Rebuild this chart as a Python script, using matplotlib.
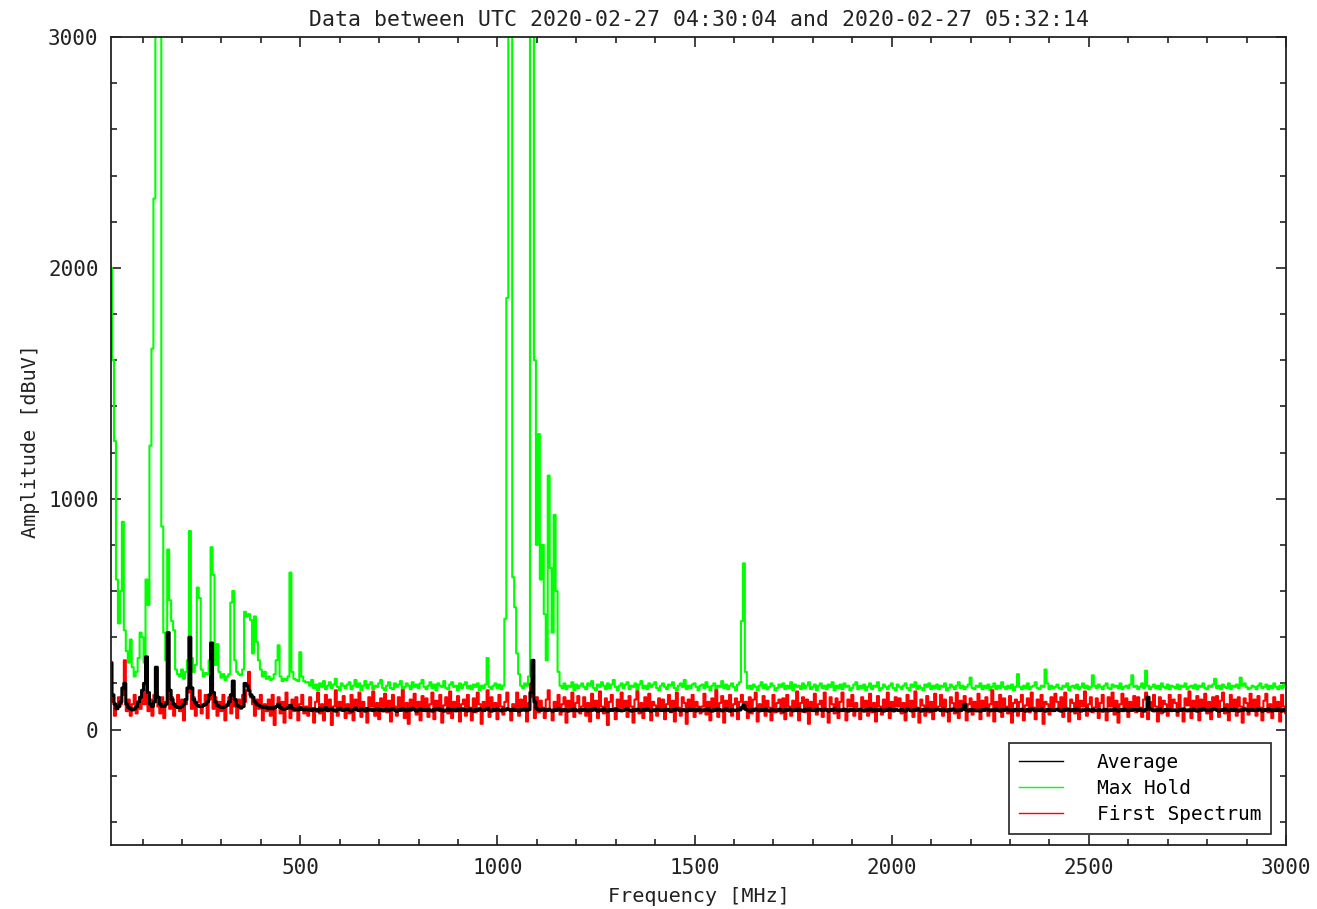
import numpy as np
import matplotlib
matplotlib.use("Agg")
import matplotlib.pyplot as plt
from matplotlib.lines import Line2D

# spectrum sampled every 5 MHz from 20 to 3000 MHz
freq_start, freq_stop, freq_step = 20, 3000, 5

# Max Hold (green), one row = 100 MHz
max_hold = [
    2000, 1600, 1250, 650, 460, 600, 900, 430, 340, 290, 390, 270, 230, 250, 310, 420, 400, 290, 650, 540,
    1230, 1650, 2300, 3100, 3100, 3100, 880, 420, 300, 780, 560, 470, 430, 260, 240, 230, 260, 220, 250, 300,
    860, 310, 250, 280, 615, 570, 260, 230, 245, 240, 300, 790, 670, 280, 370, 250, 225, 240, 215, 230,
    240, 550, 600, 300, 250, 240, 235, 260, 510, 490, 500, 475, 330, 490, 380, 300, 260, 230, 250, 220,
    230, 215, 220, 240, 300, 365, 230, 210, 220, 215, 230, 680, 250, 220, 215, 210, 335, 230, 210, 205,
    205, 190, 215, 180, 195, 170, 200, 185, 210, 175, 190, 205, 180, 195, 220, 185, 170, 200, 190, 180,
    195, 205, 175, 190, 215, 185, 200, 170, 190, 210, 180, 195, 205, 175, 190, 185, 200, 215, 180, 170,
    190, 205, 180, 175, 200, 185, 195, 210, 170, 185, 200, 190, 175, 205, 185, 195, 180, 200, 215, 185,
    175, 190, 205, 180, 195, 170, 200, 190, 185, 210, 180, 175, 195, 205, 185, 190, 170, 200, 180, 195,
    205, 180, 190, 175, 195, 185, 200, 170, 190, 180, 195, 310, 185, 175, 190, 200, 180, 195, 175, 190,
    480, 1870, 3100, 3100, 660, 530, 330, 240, 190, 180, 200, 190, 230, 3100, 3100, 1600, 800, 1280, 650, 800,
    500, 300, 1100, 700, 420, 930, 600, 250, 190, 180, 200, 175, 190, 185, 205, 170, 195, 180, 190, 200,
    185, 175, 200, 190, 210, 180, 170, 195, 185, 205, 190, 175, 200, 180, 195, 215, 185, 170, 190, 200,
    180, 195, 205, 175, 190, 185, 200, 170, 195, 210, 180, 190, 175, 200, 185, 195, 205, 180, 170, 190,
    200, 185, 175, 195, 190, 205, 180, 170, 190, 200, 185, 215, 175, 190, 180, 195, 200, 185, 170, 190,
    195, 180, 205, 185, 170, 190, 200, 175, 190, 185, 210, 180, 195, 175, 190, 200, 185, 170, 195, 205,
    470, 720, 250, 180, 190, 175, 195, 185, 170, 190, 205, 180, 195, 175, 185, 200, 190, 170, 180, 195,
    185, 200, 175, 190, 180, 205, 170, 195, 185, 190, 175, 200, 180, 190, 205, 175, 185, 195, 170, 190,
    200, 180, 190, 175, 195, 185, 205, 170, 190, 180, 195, 175, 200, 185, 190, 170, 180, 195, 205, 175,
    190, 180, 195, 170, 185, 200, 175, 190, 185, 205, 170, 180, 195, 185, 175, 190, 200, 180, 170, 195,
    185, 175, 190, 200, 180, 170, 195, 185, 205, 175, 190, 180, 170, 195, 185, 200, 175, 190, 180, 195,
    175, 190, 185, 200, 170, 180, 195, 185, 175, 190, 205, 180, 190, 175, 185, 195, 225, 180, 175, 190,
    185, 200, 175, 190, 180, 195, 170, 185, 200, 175, 190, 180, 205, 185, 175, 190, 180, 195, 170, 185,
    240, 185, 175, 190, 180, 200, 175, 185, 190, 205, 180, 175, 190, 185, 260, 200, 175, 190, 180, 185,
    195, 180, 175, 190, 185, 200, 170, 185, 190, 180, 195, 175, 185, 200, 180, 190, 175, 185, 235, 190,
    180, 195, 185, 175, 190, 200, 180, 175, 195, 185, 190, 180, 200, 175, 185, 190, 180, 195, 235, 185,
    190, 175, 185, 200, 180, 255, 190, 175, 185, 195, 180, 190, 175, 200, 185, 180, 195, 175, 190, 185,
    180, 195, 175, 190, 185, 200, 175, 185, 190, 180, 195, 175, 190, 185, 200, 180, 175, 190, 185, 195,
    220, 180, 190, 175, 195, 185, 180, 200, 175, 190, 185, 195, 180, 225, 190, 200, 185, 175, 180, 190,
    185, 175, 190, 200, 180, 185, 195, 175, 190, 180, 200, 185, 175, 190, 180, 195, 185,
]

# First Spectrum (red)
first_spectrum = [
    180, 120, 60, 90, 140, 110, 150, 300, 80, 130, 60, 110, 150, 70, 120, 90, 160, 110, 190, 80,
    130, 60, 150, 220, 100, 70, 140, 50, 120, 160, 90, 140, 60, 110, 150, 80, 130, 40, 110, 160,
    200, 90, 140, 60, 120, 170, 70, 110, 150, 50, 130, 210, 90, 140, 60, 120, 80, 150, 40, 110,
    140, 70, 160, 100, 50, 130, 90, 150, 120, 170, 250, 140, 110, 60, 130, 90, 150, 40, 110, 80,
    130, 60, 150, 20, 100, 140, 70, 120, 30, 160, 90, 50, 130, 80, 140, 40, 110, 150, 70, 100,
    60, 140, 90, 30, 120, 160, 70, 110, 40, 150, 80, 130, 20, 100, 170, 60, 120, 90, 145, 50,
    110, 70, 150, 40, 130, 95, 160, 55, 120, 85, 30, 140, 100, 165, 60, 115, 45, 135, 90, 155,
    75, 125, 35, 150, 100, 60, 140, 85, 170, 50, 115, 25, 130, 95, 155, 65, 120, 40, 145, 80,
    135, 55, 110, 160, 45, 125, 90, 150, 30, 105, 140, 70, 165, 50, 120, 85, 145, 35, 110, 130,
    60, 150, 95, 40, 135, 75, 160, 110, 25, 120, 90, 170, 55, 140, 80, 115, 45, 150, 100, 65,
    120, 160, 90, 40, 110, 90, 160, 60, 130, 85, 145, 35, 115, 200, 140, 50, 140, 75, 125, 95,
    50, 130, 170, 85, 40, 120, 95, 150, 65, 110, 140, 30, 125, 80, 160, 55, 115, 145, 70, 100,
    140, 60, 115, 35, 155, 90, 125, 50, 165, 100, 70, 135, 20, 120, 150, 85, 45, 130, 95, 160,
    85, 125, 55, 145, 100, 30, 130, 165, 70, 115, 50, 140, 90, 155, 40, 120, 105, 60, 135, 80,
    130, 45, 110, 150, 75, 125, 35, 160, 95, 60, 140, 115, 25, 130, 85, 150, 55, 120, 100, 70,
    100, 155, 65, 120, 40, 135, 90, 170, 55, 115, 145, 30, 125, 80, 150, 60, 110, 135, 45, 120,
    150, 90, 120, 50, 140, 70, 130, 160, 35, 110, 85, 145, 60, 125, 95, 40, 150, 75, 115, 130,
    70, 135, 45, 150, 100, 60, 125, 85, 165, 40, 115, 140, 75, 130, 25, 120, 90, 155, 65, 110,
    125, 55, 160, 90, 30, 140, 110, 70, 135, 50, 120, 160, 85, 40, 130, 100, 150, 60, 115, 80,
    45, 140, 95, 125, 60, 155, 75, 115, 35, 145, 100, 65, 130, 90, 160, 50, 120, 80, 140, 100,
    135, 70, 115, 40, 150, 85, 125, 55, 165, 95, 30, 130, 105, 60, 145, 75, 120, 45, 155, 90,
    100, 150, 60, 130, 80, 35, 140, 115, 70, 160, 50, 125, 90, 145, 40, 110, 135, 65, 120, 85,
    155, 45, 125, 95, 140, 60, 110, 170, 35, 120, 80, 150, 55, 135, 100, 70, 145, 30, 115, 130,
    60, 120, 150, 40, 105, 135, 75, 160, 95, 45, 130, 85, 150, 25, 120, 110, 65, 140, 90, 155,
    120, 80, 140, 55, 160, 90, 35, 130, 115, 70, 150, 45, 125, 100, 165, 60, 110, 140, 75, 95,
    135, 50, 115, 150, 85, 40, 140, 100, 160, 65, 125, 30, 110, 155, 80, 135, 55, 120, 95, 145,
    75, 140, 95, 55, 130, 160, 45, 120, 85, 150, 100, 35, 140, 70, 125, 110, 60, 150, 90, 130,
    115, 60, 150, 90, 35, 135, 105, 165, 50, 125, 80, 145, 40, 130, 95, 155, 70, 120, 45, 140,
    90, 145, 55, 125, 160, 70, 110, 40, 150, 85, 130, 60, 140, 100, 30, 135, 115, 65, 155, 80,
    130, 60, 145, 95, 40, 125, 155, 75, 110, 50, 140, 85, 120, 35, 150, 100, 70,
]

# Average (black)
average = [
    290, 150, 110, 90, 100, 120, 180, 200, 110, 95, 90, 85, 90, 100, 120, 140, 170, 200, 315, 160,
    110, 100, 120, 270, 140, 110, 100, 100, 110, 420, 170, 130, 110, 100, 95, 95, 100, 110, 130, 180,
    400, 180, 130, 115, 105, 100, 100, 105, 110, 120, 150, 375, 160, 120, 105, 100, 95, 95, 100, 105,
    120, 150, 210, 130, 105, 100, 95, 100, 200, 190, 170, 150, 140, 120, 110, 105, 100, 95, 100, 95,
    90, 95, 90, 95, 100, 110, 95, 90, 88, 92, 95, 105, 92, 88, 90, 85, 95, 88, 85, 90,
    85, 88, 82, 90, 86, 80, 92, 84, 88, 95, 82, 86, 90, 84, 80, 88, 92, 85, 83, 87,
    90, 84, 80, 87, 93, 85, 82, 89, 86, 80, 91, 84, 88, 82, 86, 90, 83, 87, 81, 85,
    88, 82, 86, 91, 84, 79, 87, 83, 90, 85, 81, 88, 84, 92, 86, 80, 85, 89, 83, 86,
    82, 87, 84, 80, 88, 85, 91, 83, 86, 80, 84, 89, 82, 87, 85, 81, 88, 84, 90, 83,
    86, 81, 88, 84, 80, 87, 83, 90, 85, 82, 86, 92, 84, 80, 87, 83, 89, 85, 81, 88,
    84, 90, 86, 82, 88, 83, 85, 80, 87, 84, 89, 82, 86, 160, 300, 120, 90, 85, 83, 88,
    85, 82, 88, 84, 80, 86, 83, 89, 85, 81, 87, 84, 80, 86, 82, 88, 84, 81, 87, 83,
    88, 84, 81, 87, 83, 90, 85, 80, 86, 82, 89, 84, 80, 87, 83, 86, 90, 82, 85, 81,
    83, 87, 90, 84, 80, 86, 82, 88, 85, 81, 87, 83, 89, 84, 80, 86, 82, 88, 85, 83,
    86, 82, 88, 84, 80, 87, 83, 90, 85, 81, 86, 84, 80, 88, 82, 87, 85, 81, 89, 84,
    81, 86, 84, 89, 82, 80, 87, 83, 88, 85, 81, 86, 90, 83, 80, 87, 84, 82, 88, 85,
    95, 105, 88, 84, 80, 86, 83, 89, 85, 81, 87, 82, 88, 84, 80, 86, 83, 85, 81, 88,
    84, 80, 87, 83, 89, 85, 81, 86, 82, 88, 84, 80, 87, 83, 90, 85, 82, 86, 81, 88,
    85, 82, 88, 84, 80, 87, 83, 89, 85, 81, 86, 82, 88, 84, 80, 87, 83, 86, 82, 85,
    88, 84, 80, 86, 83, 89, 85, 81, 87, 82, 88, 84, 80, 86, 83, 90, 85, 81, 87, 84,
    82, 87, 84, 80, 88, 85, 81, 86, 83, 89, 84, 80, 87, 82, 88, 85, 81, 86, 83, 87,
    86, 82, 88, 84, 80, 87, 83, 89, 85, 81, 86, 82, 88, 110, 84, 80, 87, 83, 85, 81,
    84, 80, 87, 83, 89, 85, 81, 86, 82, 88, 84, 80, 87, 83, 90, 85, 82, 86, 81, 88,
    85, 82, 88, 84, 80, 87, 83, 89, 85, 81, 86, 82, 88, 84, 80, 87, 83, 86, 82, 85,
    88, 84, 80, 86, 83, 89, 85, 81, 87, 82, 88, 84, 80, 86, 83, 90, 85, 81, 87, 84,
    82, 87, 84, 80, 88, 85, 81, 86, 83, 89, 84, 80, 87, 82, 88, 85, 81, 86, 83, 87,
    86, 82, 88, 84, 80, 87, 140, 89, 85, 81, 86, 82, 88, 84, 80, 87, 83, 86, 82, 85,
    84, 80, 87, 83, 89, 85, 81, 86, 82, 88, 84, 80, 87, 83, 90, 85, 82, 86, 81, 88,
    88, 84, 80, 86, 83, 89, 85, 81, 87, 82, 88, 84, 80, 86, 83, 90, 85, 81, 87, 84,
    85, 82, 88, 84, 80, 87, 83, 89, 85, 81, 86, 82, 88, 84, 80, 87, 83,
]

title = "Data between UTC 2020-02-27 04:30:04 and 2020-02-27 05:32:14"

freq = np.arange(freq_start, freq_stop + 1, freq_step)
assert len(freq) == len(max_hold) == len(first_spectrum) == len(average)

plt.rcParams['font.family'] = ['DejaVu Sans Mono']
plt.rcParams['font.size'] = 15
ink = '#222222'

fig = plt.figure(figsize=(13.17, 9.09), dpi=100)
ax = fig.add_axes([0.0843, 0.0704, 0.8922, 0.8889])

# histogram-like traces, as the receiver software draws them
ax.plot(freq, max_hold, color='#00ff00', lw=1.5, drawstyle='steps-mid')
ax.plot(freq, first_spectrum, color='#ff0000', lw=1.5, drawstyle='steps-mid')
ax.plot(freq, average, color='black', lw=2.2, drawstyle='steps-mid')

ax.set_xlim(freq_start, freq_stop)
ax.set_ylim(-500, 3000)
ax.set_xticks([500, 1000, 1500, 2000, 2500, 3000])
ax.set_xticks(np.arange(100, 3000, 100), minor=True)
ax.set_yticks([0, 1000, 2000, 3000])
ax.set_yticks(np.arange(-400, 3000, 200), minor=True)
ax.tick_params(which='both', direction='in', top=True, right=True,
               colors=ink, width=1.2)
ax.tick_params(which='major', length=7.5, pad=9)
ax.tick_params(which='minor', length=4)
for s in ax.spines.values():
    s.set_color(ink)
    s.set_linewidth(1.3)

ax.set_title(title, fontsize=15.5, color=ink, pad=8)
ax.set_xlabel("Frequency [MHz]", fontsize=14.5, color=ink, labelpad=7)
ax.set_ylabel("Amplitude [dBuV]", fontsize=14.5, color=ink, labelpad=6)

handles = [Line2D([], [], color='black', lw=1),
           Line2D([], [], color='#00ff00', lw=1),
           Line2D([], [], color='#ff0000', lw=1)]
leg = ax.legend(handles, ['Average', 'Max Hold', 'First Spectrum'],
                loc='lower right', bbox_to_anchor=(0.987, 0.0136), borderaxespad=0,
                fancybox=False, edgecolor=ink, framealpha=1, fontsize=14,
                handlelength=2.3, handletextpad=1.7, labelspacing=0.38, borderpad=0.5)
leg.get_frame().set_linewidth(1.2)

fig.savefig('out.png', dpi=100)
